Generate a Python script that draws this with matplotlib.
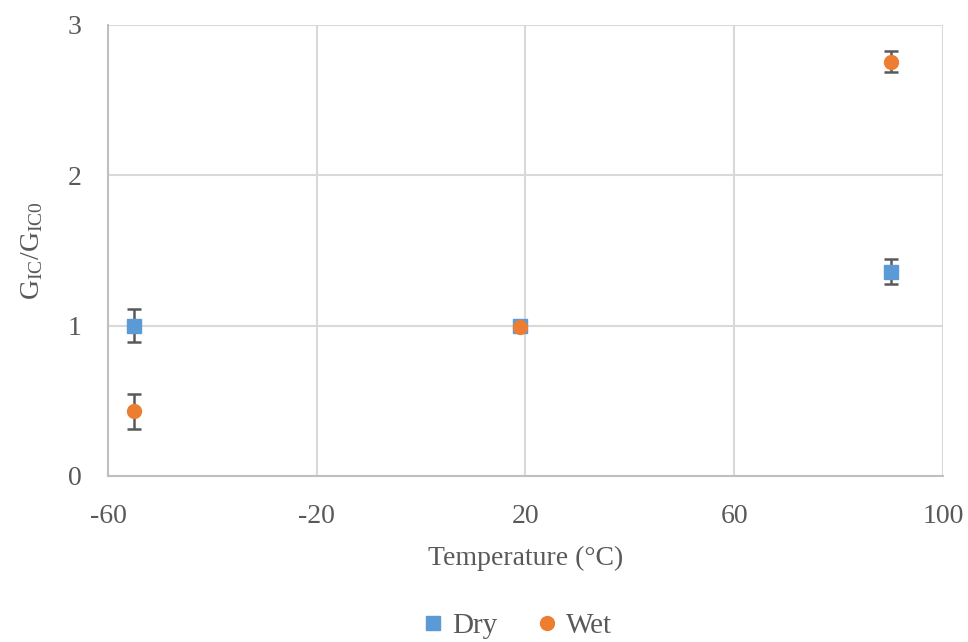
import numpy as np
import matplotlib
matplotlib.use("Agg")
import matplotlib.pyplot as plt

plt.rcParams['font.family'] = 'Liberation Serif'
plt.rcParams['mathtext.fontset'] = 'custom'
plt.rcParams['mathtext.rm'] = 'Liberation Serif'
plt.rcParams['mathtext.it'] = 'Liberation Serif:italic'
plt.rcParams['axes.unicode_minus'] = False

# Données
temp_dry = [-55, 19, 90]
g_dry = [1.0, 1.0, 1.36]
err_dry = [0.11, 0.0, 0.08]

temp_wet = [-55, 19, 90]
g_wet = [0.43, 0.99, 2.755]
err_wet = [0.115, 0.0, 0.07]

x_ticks = [-60, -20, 20, 60, 100]
y_ticks = [0, 1, 2, 3]

fig = plt.figure(figsize=(9.68, 6.42), dpi=100)
ax = fig.add_axes([0.1116, 0.2586, 0.8625, 0.7025])

ax.errorbar(temp_dry, g_dry, yerr=err_dry, fmt='s', color='#5B9BD5',
            markersize=10, ecolor='#595959', elinewidth=1.8, capsize=5,
            capthick=1.8, label='Dry', zorder=3)
ax.errorbar(temp_wet, g_wet, yerr=err_wet, fmt='o', color='#ED7D31',
            markersize=10, ecolor='#595959', elinewidth=1.8, capsize=5,
            capthick=1.8, label='Wet', zorder=4)

ax.set_xlim(-60, 100)
ax.set_ylim(0, 3)
ax.set_xticks(x_ticks)
ax.set_yticks(y_ticks)
ax.grid(True, color='#D9D9D9', linewidth=1.5)
ax.set_axisbelow(True)
for s in ax.spines.values():
    s.set_visible(False)
ax.spines['left'].set_visible(True)
ax.spines['left'].set_color('#BFBFBF')
ax.spines['left'].set_linewidth(1.5)
ax.spines['bottom'].set_visible(True)
ax.spines['bottom'].set_color('#BFBFBF')
ax.spines['bottom'].set_linewidth(1.5)
ax.tick_params(length=0, labelsize=20, colors='#595959')
ax.tick_params(axis='x', pad=20)
ax.tick_params(axis='y', pad=19)

ax.set_xlabel('Temperature (°C)', fontsize=20, color='#595959', labelpad=12)
ax.set_ylabel(r'G$_{\mathrm{IC}}$/G$_{\mathrm{IC0}}$', fontsize=20,
              color='#595959', labelpad=16)

handles, labels = ax.get_legend_handles_labels()
handles = [h[0] for h in handles]
fig.legend(handles, labels, loc='center', bbox_to_anchor=(0.532, 0.025),
           ncol=2, frameon=False, fontsize=21, handletextpad=0.15,
           columnspacing=1.2, handlelength=1.0, labelcolor='#595959',
           markerscale=1.0)

fig.savefig('out.png', dpi=100)
